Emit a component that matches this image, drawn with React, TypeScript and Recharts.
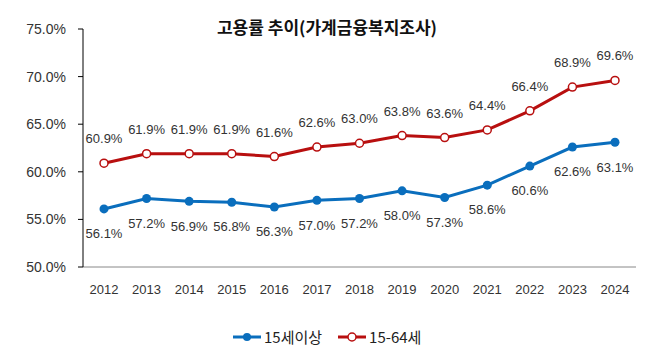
import { LineChart, Line, XAxis, YAxis, LabelList } from 'recharts';

const years = ['2012', '2013', '2014', '2015', '2016', '2017', '2018', '2019', '2020', '2021', '2022', '2023', '2024'];
const age15plus = [56.1, 57.2, 56.9, 56.8, 56.3, 57.0, 57.2, 58.0, 57.3, 58.6, 60.6, 62.6, 63.1];
const age15to64 = [60.9, 61.9, 61.9, 61.9, 61.6, 62.6, 63.0, 63.8, 63.6, 64.4, 66.4, 68.9, 69.6];
const yTicks = [50, 55, 60, 65, 70, 75];

const BLUE = '#0a6ebd';
const RED = '#b80f0f';
const NUM_FONT = '"Liberation Sans", Arial, sans-serif';
const KR_FONT = '"Noto Sans CJK KR", "Noto Sans", sans-serif';

const data = years.map((y, i) => ({ year: y, a: age15plus[i], b: age15to64[i] }));

const pct = (v: number) => `${Number(v).toFixed(1)}%`;

function LegendItem({ color, hollow, label }: { color: string; hollow?: boolean; label: string }) {
  return (
    <div style={{ display: 'flex', alignItems: 'center' }}>
      <svg width={28} height={12}>
        <line x1={0} y1={6} x2={28} y2={6} stroke={color} strokeWidth={3} />
        <circle cx={14} cy={6} r={4} fill={hollow ? '#fff' : color} stroke={color} strokeWidth={hollow ? 1.5 : 0} />
      </svg>
      <span style={{ fontSize: 15, color: '#222', marginLeft: 3 }}>{label}</span>
    </div>
  );
}

export default function App() {
  return (
    <div style={{ position: 'absolute', left: 0, top: 0, width: 658, height: 360, background: '#fff', fontFamily: KR_FONT }}>
      <div style={{
        position: 'absolute', left: 0, width: 658, top: 15, textAlign: 'center',
        fontSize: 17, fontWeight: 700, color: '#111', lineHeight: '24px',
      }}>
        <span style={{ marginLeft: -4 }}>고용률 추이(가계금융복지조사)</span>
      </div>
      <LineChart width={658} height={360} data={data} margin={{ top: 29, right: 22, left: 0, bottom: 63 }}>
        <XAxis
          dataKey="year"
          tickLine={false}
          axisLine={{ stroke: '#888' }}
          padding={{ left: 21, right: 21 }}
          tick={{ fontSize: 13, fill: '#333', fontFamily: NUM_FONT }}
          tickMargin={12}
          height={30}
        />
        <YAxis
          width={83}
          domain={[50, 75]}
          ticks={yTicks}
          tickFormatter={(v) => `${v.toFixed(1)}%`}
          axisLine={{ stroke: '#000' }}
          tickLine={{ stroke: '#000' }}
          tickSize={5}
          tickMargin={12}
          tick={{ fontSize: 14, fill: '#333', fontFamily: NUM_FONT }}
        />
        <Line
          dataKey="a"
          stroke={BLUE}
          strokeWidth={3}
          dot={{ r: 4.5, fill: BLUE, stroke: BLUE, strokeWidth: 0 }}
          isAnimationActive={false}
        >
          <LabelList dataKey="a" position="bottom" offset={20} formatter={(v: number) => pct(v)}
            style={{ fontSize: 13, fill: '#333', fontFamily: NUM_FONT }} />
        </Line>
        <Line
          dataKey="b"
          stroke={RED}
          strokeWidth={3}
          dot={{ r: 4, fill: '#fff', stroke: RED, strokeWidth: 1.5 }}
          isAnimationActive={false}
        >
          <LabelList dataKey="b" position="top" offset={20} formatter={(v: number) => pct(v)}
            style={{ fontSize: 13, fill: '#333', fontFamily: NUM_FONT }} />
        </Line>
      </LineChart>
      <div style={{ position: 'absolute', top: 326, left: 233, display: 'flex', gap: 16 }}>
        <LegendItem color={BLUE} label="15세이상" />
        <LegendItem color={RED} hollow label="15-64세" />
      </div>
    </div>
  );
}
